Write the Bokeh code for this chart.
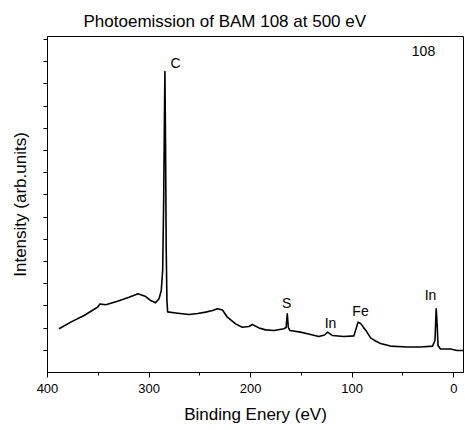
from bokeh.plotting import figure
from bokeh.models import Range1d, FixedTicker, ColumnDataSource
from bokeh.core.properties import value
from bokeh.embed import file_html
from bokeh.resources import INLINE

# Binding energy (eV) and intensity (arb. units)
energy = [388.6, 377.1, 364.0, 350.8, 348.3, 342.6, 331.1, 319.7, 310.9, 303.3,
          298.4, 293.5, 290.2, 288.0, 286.6, 285.6, 284.9, 284.4, 283.8, 283.1,
          282.4, 281.7, 273.8, 260.7, 252.1, 244.3, 237.4, 232.8, 227.8, 222.9,
          214.8, 208.2, 201.7, 198.3, 191.8, 185.2, 177.1, 167.2, 165.1, 163.9,
          162.9, 161.3, 150.8, 141.0, 132.8, 127.2, 124.2, 119.6, 108.2, 98.4,
          96.7, 94.2, 91.8, 90.1, 88.5, 86.4, 81.9, 77.0, 72.1, 62.3,
          45.8, 32.8, 20.9, 18.5, 17.3, 16.3, 15.5, 13.1, 3.2, -3.3, -9.8]
intensity = [1.97, 2.27, 2.57, 2.94, 3.09, 3.05, 3.21, 3.39, 3.55, 3.42,
             3.24, 3.14, 3.32, 3.69, 4.59, 7.75, 11.35, 13.56, 10.45, 5.50,
             3.24, 2.73, 2.68, 2.61, 2.66, 2.72, 2.79, 2.87, 2.82, 2.49,
             2.19, 2.04, 2.07, 2.16, 2.01, 1.92, 1.89, 1.97, 2.03, 2.64,
             2.03, 1.89, 1.82, 1.71, 1.62, 1.69, 1.82, 1.67, 1.62, 1.65,
             1.89, 2.27, 2.21, 2.12, 2.00, 1.89, 1.56, 1.42, 1.31, 1.19,
             1.15, 1.15, 1.19, 1.44, 2.87, 2.12, 1.22, 1.06, 1.06, 0.99, 0.99]

# Peak annotations
label_text = ["C", "108", "S", "In", "Fe", "In"]
label_x = [273.8, 29.8, 164.6, 121.3, 91.8, 22.9]
label_y = [13.96, 14.5, 3.11, 2.21, 2.79, 3.47]

x_ticks = [400, 300, 200, 100, 0]
x_minor = [350, 250, 150, 50]
y_ticks = list(range(1, 16))

FONT = "Liberation Sans"

p = figure(width=465, height=430, output_backend="svg", toolbar_location=None,
           x_range=Range1d(400, -9.6), y_range=Range1d(0, 15.14),
           min_border_left=47, min_border_right=2, min_border_top=36,
           min_border_bottom=58, title="Photoemission of BAM 108 at 500 eV")

p.title.align = "left"
p.title.offset = 36
p.title.standoff = 11
p.title.text_font = FONT
p.title.text_font_size = "17px"
p.title.text_font_style = "normal"
p.title.text_color = "black"

p.grid.visible = False
p.outline_line_color = "black"
p.outline_line_width = 1
p.background_fill_color = "white"
p.border_fill_color = "white"

p.xaxis.ticker = FixedTicker(ticks=x_ticks, minor_ticks=x_minor)
p.xaxis.axis_label = "Binding Enery (eV)"
p.xaxis.major_tick_out = 5
p.xaxis.major_tick_in = 0
p.xaxis.minor_tick_out = 3
p.xaxis.minor_tick_in = 0
p.xaxis.major_label_standoff = 6
p.xaxis.axis_label_standoff = 9

# y axis: ticks only, no visible tick labels
p.yaxis.ticker = FixedTicker(ticks=y_ticks, minor_ticks=[])
p.yaxis.axis_label = "Intensity (arb.units)"
p.yaxis.major_tick_out = 4
p.yaxis.major_tick_in = 0
p.yaxis.major_label_text_font_size = "0px"
p.yaxis.major_label_standoff = 0
p.yaxis.axis_label_standoff = 14

for ax in (p.xaxis[0], p.yaxis[0]):
    ax.axis_line_color = "black"
    ax.major_tick_line_color = "black"
    ax.minor_tick_line_color = "black"
    ax.major_label_text_font = FONT
    ax.major_label_text_color = "black"
    ax.axis_label_text_font = FONT
    ax.axis_label_text_font_style = "normal"
    ax.axis_label_text_font_size = "17px"
    ax.axis_label_text_color = "black"
p.xaxis.major_label_text_font_size = "13px"

src = ColumnDataSource(dict(x=energy, y=intensity))
p.line("x", "y", source=src, line_color="black", line_width=1.6,
       line_join="round")

lab = ColumnDataSource(dict(x=label_x, y=label_y, t=label_text))
p.text("x", "y", text="t", source=lab, text_font=value(FONT),
       text_font_size="14px", text_align="center", text_baseline="middle",
       text_color="black")

open("out.html", "w").write(file_html(p, INLINE))
